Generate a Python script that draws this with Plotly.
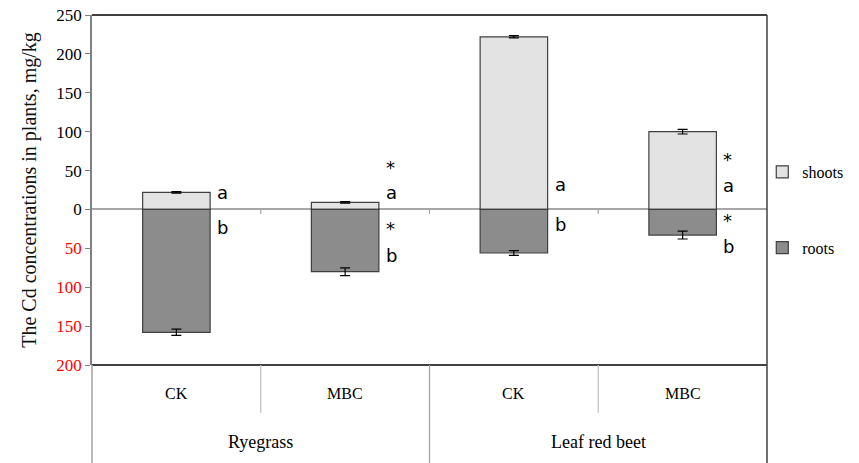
import plotly.graph_objects as go

plants = ["Ryegrass", "Ryegrass", "Leaf red beet", "Leaf red beet"]
treatments = ["CK", "MBC", "CK", "MBC"]
shoots = [22, 9, 222, 100]
shoots_err = [1, 1, 1.5, 3]
roots = [158, 80, 56, 33]
roots_err = [4, 5, 3, 5]

tick_values = [250, 200, 150, 100, 50, 0, -50, -100, -150, -200]

# significance letters: (category index, label, value position)
sig_labels = [
    (0, "a", 22), (0, "b", -23),
    (1, "*", 54), (1, "a", 22), (1, "*", -25), (1, "b", -59),
    (2, "a", 32), (2, "b", -19),
    (3, "*", 64), (3, "a", 31), (3, "*", -14), (3, "b", -47),
]

x = list(range(len(treatments)))
serif = "Liberation Serif, Times New Roman, serif"
sans = "DejaVu Sans, Verdana, sans-serif"

fig = go.Figure()
fig.add_trace(go.Bar(
    x=x, y=shoots, name="shoots", width=0.4,
    marker=dict(color="#e3e3e3", line=dict(color="#404040", width=1.2)),
    error_y=dict(type="data", array=shoots_err, color="black", thickness=1.2, width=5),
    legendgroup="s", hoverinfo="skip",
))
fig.add_trace(go.Bar(
    x=x, y=[-r for r in roots], name="roots", width=0.4,
    marker=dict(color="#8c8c8c", line=dict(color="#404040", width=1.2)),
    error_y=dict(type="data", array=roots_err, color="black", thickness=1.2, width=5),
    legendgroup="r", hoverinfo="skip",
))

ticktext = [str(abs(v)) if v >= 0 else "<span style='color:red'>%d</span>" % abs(v) for v in tick_values]

fig.update_layout(
    width=859, height=463,
    margin=dict(l=92, r=92, t=15, b=98, autoexpand=False),
    paper_bgcolor="white", plot_bgcolor="white",
    barmode="relative",
    showlegend=True,
    legend=dict(x=0.993, y=0.6, xanchor="left", yanchor="top",
                font=dict(family=serif, size=16, color="black"),
                tracegroupgap=52, itemwidth=30, bgcolor="rgba(0,0,0,0)"),
    xaxis=dict(range=[-0.5, 3.5], showticklabels=False, showgrid=False,
               zeroline=False, showline=False, ticks="", automargin=False),
    yaxis=dict(range=[-200, 250], tickvals=tick_values, ticktext=ticktext,
               showgrid=False, zeroline=True, zerolinecolor="#a6a6a6", zerolinewidth=1.5,
               showline=True, linecolor="#808080", linewidth=1.5,
               ticks="outside", ticklen=5, tickcolor="#808080", automargin=False,
               tickfont=dict(family=serif, size=17, color="black"),
               title=dict(text="The Cd concentrations in plants, mg/kg",
                          font=dict(family=serif, size=20, color="#111111"), standoff=14)),
    font=dict(family=serif, color="black"),
)

shapes = []
# top and bottom frame lines, right border
shapes.append(dict(type="line", xref="paper", yref="paper", x0=0, x1=1, y0=1, y1=1,
                   line=dict(color="black", width=1.5)))
shapes.append(dict(type="line", xref="paper", yref="paper", x0=0, x1=1, y0=0, y1=0,
                   line=dict(color="black", width=1.5)))
shapes.append(dict(type="line", xref="paper", yref="paper", x0=1, x1=1, y0=1, y1=-0.29,
                   line=dict(color="#404040", width=1.5)))
# left axis extension into table
shapes.append(dict(type="line", xref="paper", yref="paper", x0=0, x1=0, y0=0, y1=-0.29,
                   line=dict(color="#a0a0a0", width=1.5)))
# category separators
for b in [0.5, 2.5]:
    shapes.append(dict(type="line", xref="x", yref="paper", x0=b, x1=b, y0=0, y1=-0.137,
                       line=dict(color="#bfbfbf", width=1.2)))
shapes.append(dict(type="line", xref="x", yref="paper", x0=1.5, x1=1.5, y0=0, y1=-0.29,
                   line=dict(color="#a0a0a0", width=1.2)))
# small ticks on zero line
for b in [0.5, 1.5, 2.5]:
    shapes.append(dict(type="line", xref="x", yref="y", x0=b, x1=b, y0=0, y1=-6,
                       line=dict(color="#a6a6a6", width=1.2)))
fig.update_layout(shapes=shapes)

annotations = []
for i, t in enumerate(treatments):
    annotations.append(dict(x=i, y=-0.08, xref="x", yref="paper", text=t, showarrow=False,
                            yanchor="middle",
                            font=dict(family=serif, size=16, color="black")))
groups = {}
for i, p in enumerate(plants):
    groups.setdefault(p, []).append(i)
for p, idx in groups.items():
    annotations.append(dict(x=sum(idx) / len(idx), y=-0.22, xref="x", yref="paper", text=p,
                            showarrow=False, yanchor="middle",
                            font=dict(family=serif, size=18, color="black")))
for i, lab, yv in sig_labels:
    annotations.append(dict(x=i + 0.23, y=yv, xref="x", yref="y", text=lab, showarrow=False,
                            xanchor="left", font=dict(family=sans, size=18, color="black")))
fig.update_layout(annotations=annotations)

fig.write_html("out.html", config={"displayModeBar": False},
               post_script="document.body.style.margin='0';document.body.style.overflow='hidden';")
